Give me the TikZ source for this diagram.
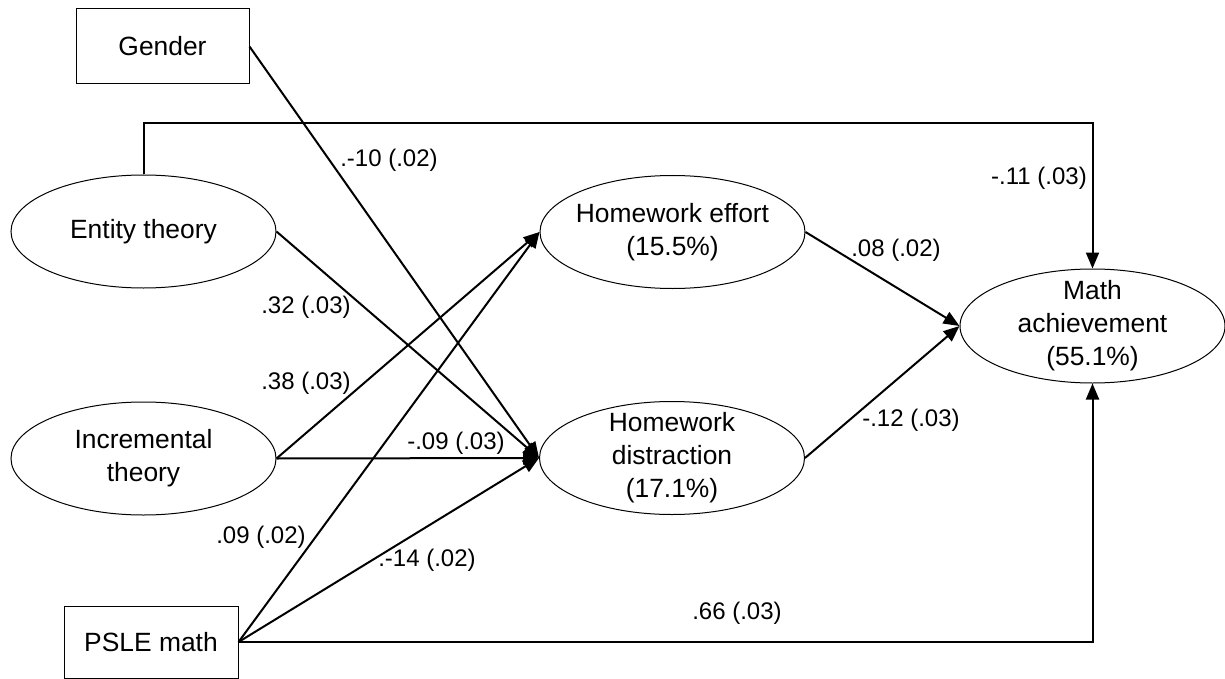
\documentclass[tikz,border=0pt]{standalone}
\usepackage{fontspec}
\setmainfont{Liberation Sans}
\usetikzlibrary{shapes.geometric,arrows.meta}

\begin{document}
\begin{tikzpicture}[x=1pt, y=-1pt,
    every node/.style={font=\fontsize{26.4}{33}\selectfont},
    obs/.style={draw, line width=1pt, rectangle, inner sep=0pt,
        minimum width=173pt, minimum height=75pt},
    lat/.style={draw, line width=1pt, ellipse, inner sep=0pt,
        minimum width=265pt, minimum height=113pt},
    effect/.style={line width=2pt, -{Triangle[length=16pt,width=13pt]}},
    coef/.style={font=\fontsize{24}{28}\selectfont, inner sep=0pt}]
    \useasboundingbox (0,0) rectangle (1225,679);

    % Predictors
    \node[obs] (gender) at (162.5,46.5) {Gender};
    \node[lat] (entity) at (143.5,231.5) {Entity theory};
    \node[lat, label={[align=center]center:Incremental\\theory}] (incr) at (143.5,458.5) {};
    \node[obs, minimum width=174pt, minimum height=72pt] (psle) at (151,642) {PSLE math};

    % Mediators
    \node[lat, label={[align=center]center:Homework effort\\(15.5\%)}] (effort) at (672.5,232) {};
    \node[lat, label={[align=center]center:Homework\\distraction\\(17.1\%)}] (distr) at (672,458) {};

    % Outcome
    \node[lat, minimum height=114pt, label={[align=center]center:Math\\achievement\\(55.1\%)}] (math) at (1092.5,326) {};

    % Paths to homework
    \draw[effect] (gender.east) -- (distr.west);
    \draw[effect] (entity.east) -- (distr.west);
    \draw[effect] (incr.east) -- (distr.west);
    \draw[effect] (incr.east) -- (effort.west);
    \draw[effect] (psle.east) -- (effort.west);
    \draw[effect] (psle.east) -- (distr.west);

    % Paths to math achievement
    \draw[effect] (effort.east) -- (math.west);
    \draw[effect] (distr.east) -- (math.west);
    \coordinate (top) at (0,123);
    \draw[effect] (entity.north) -- (entity.north |- top) -| (math.north);
    \draw[effect] (psle.east) -| (math.south);

    % Coefficients
    \node[coef] (c1) at (389,160) {.-10 (.02)};
    \node[coef] (c2) at (306,307) {.32 (.03)};
    \node[coef] (c3) at (306,383) {.38 (.03)};
    \node[coef] (c4) at (456,443) {-.09 (.03)};
    \node[coef] (c5) at (261,537) {.09 (.02)};
    \node[coef] (c6) at (427,560) {.-14 (.02)};
    \node[coef] (c7) at (737,613) {.66 (.03)};
    \node[coef] (c8) at (896,250) {.08 (.02)};
    \node[coef] (c9) at (911,420) {-.12 (.03)};
    \node[coef, anchor=east] (c10) at (1087,178) {-.11 (.03)};
\end{tikzpicture}
\end{document}
